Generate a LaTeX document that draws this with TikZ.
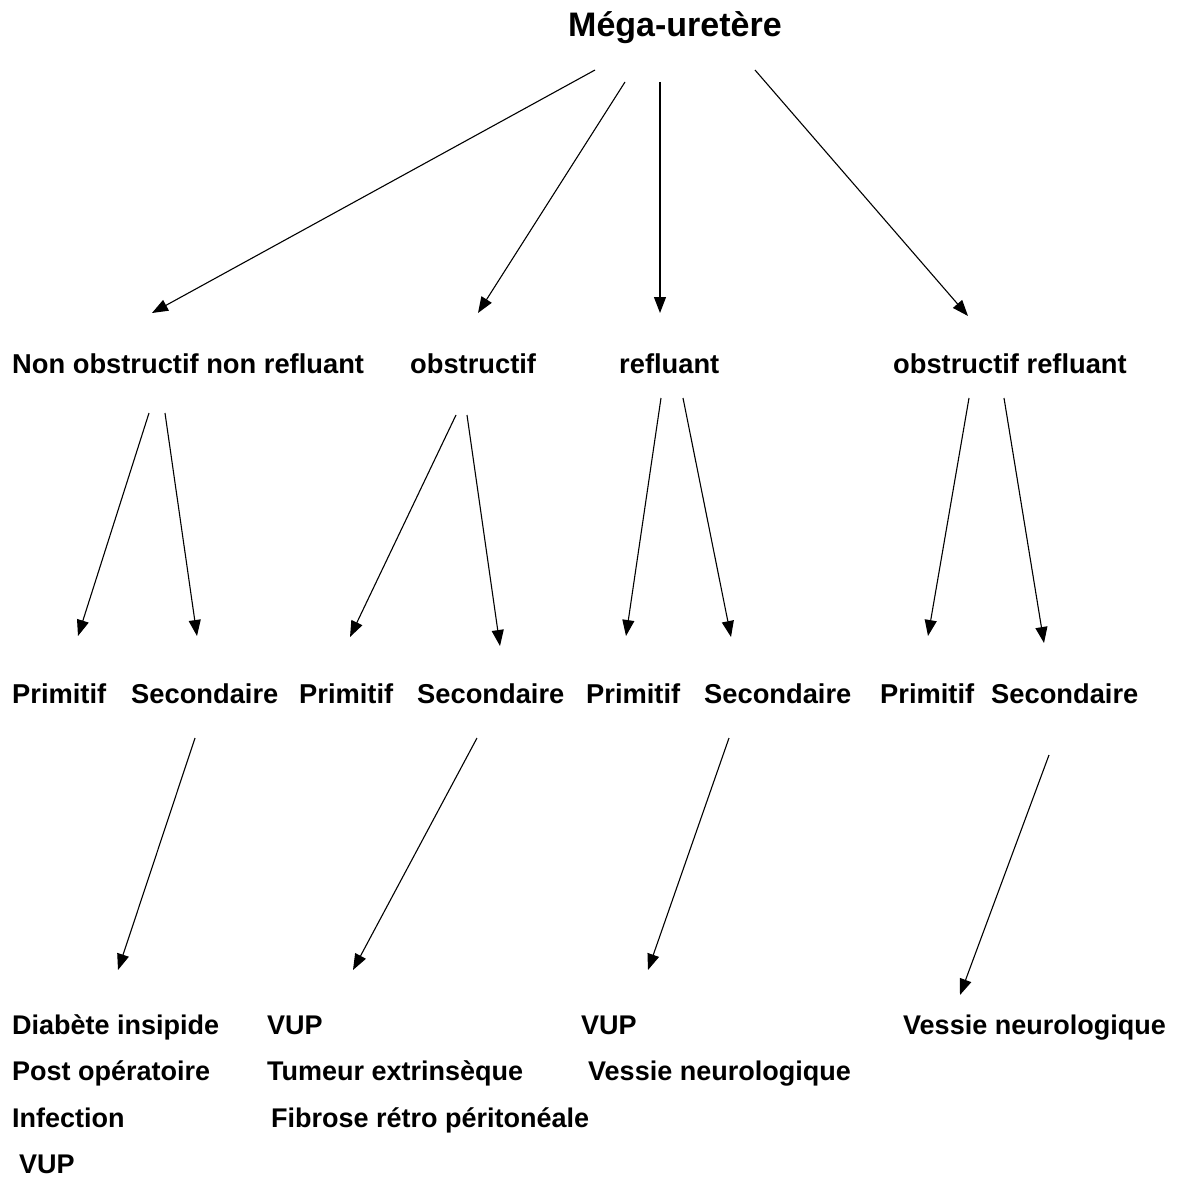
\documentclass[tikz,border=0pt]{standalone}
\usepackage{fontspec}
\setmainfont{Liberation Sans}
\usetikzlibrary{arrows.meta}

\begin{document}
\begin{tikzpicture}[
  x=1pt, y=-1pt,
  lbl/.style={anchor=base west, inner sep=0pt, font=\fontsize{27.3}{32}\selectfont\bfseries},
  leaf/.style={lbl, font=\fontsize{27}{31}\selectfont\bfseries},
  arr/.style={-{Triangle[length=16pt,width=12pt]}, line width=1.1pt}
]
\useasboundingbox (0,0) rectangle (1181,1177);

% racine
\node[anchor=base, inner sep=0pt, font=\fontsize{34}{39}\selectfont\bfseries] (mega) at (675,37) {Méga-uretère};

% niveau 2
\node[lbl] (nonobs) at (12,373)  {Non obstructif non refluant};
\node[lbl] (obs)    at (410,373) {obstructif};
\node[lbl] (ref)    at (619,373) {refluant};
\node[lbl] (obsref) at (893,373) {obstructif refluant};

% niveau 3
\node[lbl] (prA) at (12,703)  {Primitif};
\node[lbl] (seA) at (131,703) {Secondaire};
\node[lbl] (prB) at (299,703) {Primitif};
\node[lbl] (seB) at (417,703) {Secondaire};
\node[lbl] (prC) at (586,703) {Primitif};
\node[lbl] (seC) at (704,703) {Secondaire};
\node[lbl] (prD) at (880,703) {Primitif};
\node[lbl] (seD) at (991,703) {Secondaire};

% niveau 4
\node[leaf] (diab) at (12,1034)  {Diabète insipide};
\node[leaf] (post) at (12,1080)  {Post opératoire};
\node[leaf] (inf)  at (12,1127)  {Infection};
\node[leaf] (vupA) at (19,1173)  {VUP};
\node[leaf] (vupB) at (267,1034) {VUP};
\node[leaf] (tum)  at (267,1080) {Tumeur extrinsèque};
\node[leaf] (fib)  at (271,1127) {Fibrose rétro péritonéale};
\node[leaf] (vupC) at (581,1034) {VUP};
\node[leaf] (vesC) at (588,1080) {Vessie neurologique};
\node[leaf] (vesD) at (903,1034) {Vessie neurologique};

% extremites des fleches
\coordinate (m1) at (595,70);  \coordinate (t1) at (152,313);
\coordinate (m2) at (625,82);  \coordinate (t2) at (478,313);
\coordinate (m3) at (660,82);  \coordinate (t3) at (660,313);
\coordinate (m4) at (755,70);  \coordinate (t4) at (968,316);

\coordinate (a1) at (149,413); \coordinate (pa) at (78,636);
\coordinate (a2) at (165,413); \coordinate (sa) at (197,636);
\coordinate (b1) at (456,415); \coordinate (pb) at (350,637);
\coordinate (b2) at (467,415); \coordinate (sb) at (500,646);
\coordinate (c1) at (661,398); \coordinate (pc) at (626,636);
\coordinate (c2) at (683,398); \coordinate (sc) at (731,637);
\coordinate (d1) at (969,398); \coordinate (pd) at (928,636);
\coordinate (d2) at (1004,398); \coordinate (sd) at (1044,643);

\coordinate (ea) at (195,738);  \coordinate (la) at (118,970);
\coordinate (eb) at (477,738);  \coordinate (lb) at (353,970);
\coordinate (ec) at (729,738);  \coordinate (lc) at (648,970);
\coordinate (ed) at (1049,755); \coordinate (ld) at (960,995);

\foreach \s/\e in {m1/t1, m2/t2, m3/t3, m4/t4,
                   a1/pa, a2/sa, b1/pb, b2/sb, c1/pc, c2/sc, d1/pd, d2/sd,
                   ea/la, eb/lb, ec/lc, ed/ld}
  \draw[arr] (\s) -- (\e);
\end{tikzpicture}
\end{document}
